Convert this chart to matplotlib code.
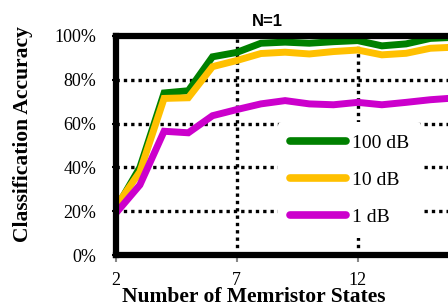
import matplotlib as mpl
mpl.use('Agg')
import matplotlib.pyplot as plt
from matplotlib.ticker import FuncFormatter

# values
states = [2, 3, 4, 5, 6, 7, 8, 9, 10, 11, 12, 13, 14, 15, 16]
acc_100db = [21, 40, 74, 75, 90.5, 92.5, 96.7, 97.2, 96.7, 97.4, 97.9, 95.5, 96.4, 98.9, 99.4]
acc_10db = [22, 38, 71.5, 71.8, 86, 88.8, 92, 92.6, 91.8, 92.9, 93.6, 91.4, 92.1, 94.4, 94.9]
acc_1db = [19, 32, 56.5, 55.8, 63.6, 66.4, 69, 70.5, 69, 68.6, 69.7, 68.6, 69.7, 70.9, 71.7]
labels = ['100 dB', '10 dB', '1 dB']
colors = ['#008000', '#FFC000', '#CC00CC']

plt.rcParams['font.family'] = ['Liberation Serif', 'DejaVu Serif']

W, H = 448, 306
fig = plt.figure(figsize=(W / 100, H / 100), dpi=100)
# right edge of the axes lies past the figure, as in the cropped original
ax = fig.add_axes([115.7 / W, 1 - 255 / H, 363 / W, 219 / H])

for ys, c, lab in zip([acc_100db, acc_10db, acc_1db], colors, labels):
    ax.plot(states, ys, color=c, lw=5, label=lab, solid_capstyle='butt',
            solid_joinstyle='miter')

ax.set_xlim(2, 17)
ax.set_ylim(0, 100)
ax.set_xticks([2, 7, 12])
ax.set_yticks([0, 20, 40, 60, 80, 100])
ax.yaxis.set_major_formatter(FuncFormatter(lambda v, p: '%d%%' % v))

ax.set_axisbelow(True)
ax.grid(True, color='black', lw=2.4, linestyle=(0, (1, 1.2)))

for s in ['left', 'top', 'bottom', 'right']:
    ax.spines[s].set_linewidth(4.5)
    ax.spines[s].set_color('black')

# thin grey axis line just under the black frame
ax.plot([0, 1], [0, 0], transform=ax.transAxes, color='#888888', lw=1.5,
        clip_on=False, zorder=1)

ax.tick_params(axis='y', length=3, width=1.5, color='black', pad=11, labelsize=13)
ax.tick_params(axis='x', length=5, width=1.5, color='#888888', pad=7, labelsize=13)

leg = ax.legend(loc='center', bbox_to_anchor=(349.5 / W, 1 - 180 / H),
                bbox_transform=fig.transFigure, fontsize=14, frameon=True,
                facecolor='white', edgecolor='none', framealpha=1,
                handlelength=2.9, handletextpad=0.3, labelspacing=1.0,
                borderpad=0.6)
for h in leg.get_lines():
    h.set_solid_capstyle('round')
    h.set_linewidth(5.5)

fig.text(267 / W, 1 - 21 / H, 'N=1', ha='center', va='center',
         fontsize=12, fontweight='bold', family='Liberation Sans')
fig.text(254 / W, 1 - 297 / H, 'Number of Memristor States', ha='center',
         va='center', fontsize=15.5, fontweight='bold')
fig.text(23 / W, 1 - 134 / H, 'Classification Accuracy', ha='center',
         va='center', rotation=90, fontsize=15.5, fontweight='bold')

fig.savefig('out.png', dpi=100)
